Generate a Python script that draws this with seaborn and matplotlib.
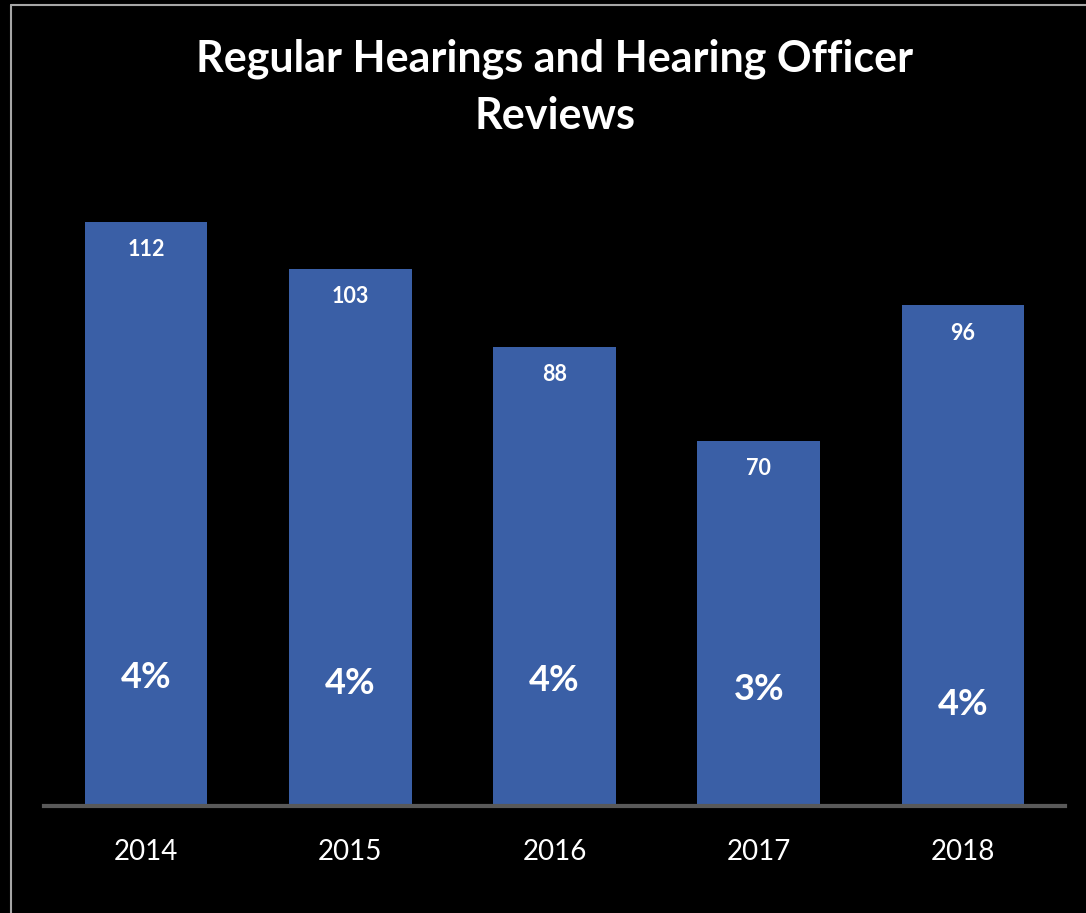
import seaborn as sns
import matplotlib.pyplot as plt
import pandas as pd

sns.set_theme(style="dark")
plt.rcParams['font.family'] = ['Lato', 'DejaVu Sans']

# data
years = ["2014", "2015", "2016", "2017", "2018"]
counts = [112, 103, 88, 70, 96]
pct_labels = ["4%", "4%", "4%", "3%", "4%"]
pct_heights = [24.7, 23.4, 24.0, 22.4, 19.5]   # where the % text sits (in data units)

df = pd.DataFrame({"year": years, "count": counts})

fig = plt.figure(figsize=(10.86, 9.13), dpi=100, facecolor="black")
ax = fig.add_axes([0.0405, 0.1172, 0.9402, 0.6856])
ax.set_facecolor("black")

sns.barplot(data=df, x="year", y="count", color="#3A5FA6", saturation=1,
            width=0.6, ax=ax, zorder=2, edgecolor="none", linewidth=0)

ax.set_xlim(-0.5, 4.5)
ax.set_ylim(0, 120)

# value labels just inside the top of each bar
for i, v in enumerate(counts):
    ax.annotate(str(v), (i, v), xytext=(0, -28), textcoords="offset pixels",
                ha="center", va="center", color="white", fontsize=15.5, fontweight="bold")

# percent labels lower down
for i, (p, h) in enumerate(zip(pct_labels, pct_heights)):
    ax.text(i, h, p, ha="center", va="center", color="white", fontsize=26, fontweight="bold")

ax.set_xlabel("")
ax.set_ylabel("")
ax.set_yticks([])
ax.tick_params(axis="x", colors="white", labelsize=20, length=0, pad=24)
for s in ["top", "right", "left"]:
    ax.spines[s].set_visible(False)
ax.spines["bottom"].set_color("#595959")
ax.spines["bottom"].set_linewidth(3)
ax.spines["bottom"].set_zorder(3)
ax.grid(False)

fig.text(0.511, 0.904, "Regular Hearings and Hearing Officer\nReviews", ha="center", va="center",
         color="white", fontsize=31, fontweight="bold", linespacing=1.52)

# thin grey frame round the chart area (top and left edges visible)
fig.add_artist(plt.Line2D([0.0105, 1.0], [0.9945, 0.9945], color="#A6A6A6", lw=1.5))
fig.add_artist(plt.Line2D([0.0105, 0.0105], [0.0, 0.9945], color="#A6A6A6", lw=1.5))

fig.savefig("out.png", dpi=100, facecolor="black")
